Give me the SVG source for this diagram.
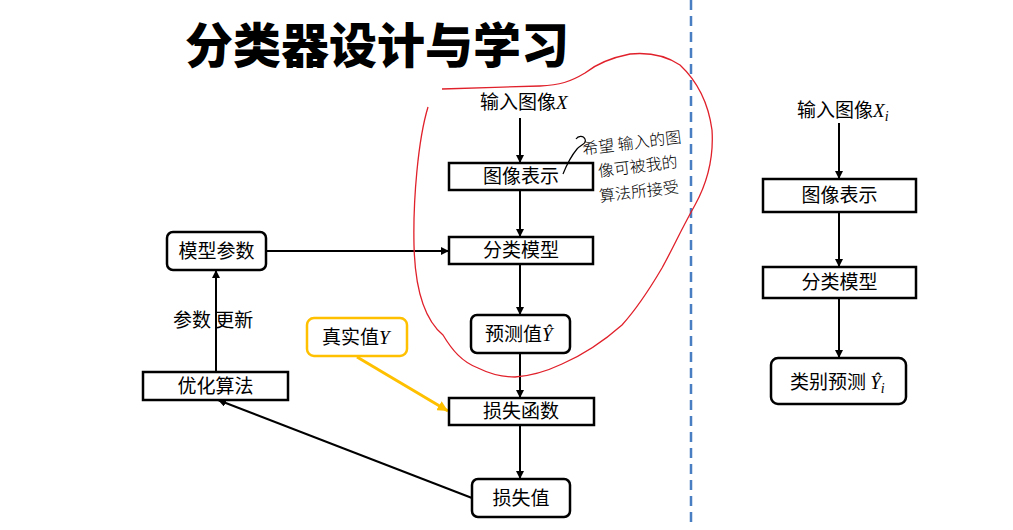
<svg xmlns="http://www.w3.org/2000/svg" width="1013" height="530" viewBox="0 0 1013 530">
<defs>
<marker id="ah" viewBox="0 0 10 10" refX="10" refY="5" markerWidth="4" markerHeight="4" orient="auto" markerUnits="strokeWidth">
<path d="M0,0 L10,5 L0,10 z" fill="#000"/>
</marker>
<marker id="ahy" viewBox="0 0 10 10" refX="10" refY="5" markerWidth="3.5" markerHeight="3.5" orient="auto" markerUnits="strokeWidth">
<path d="M0,0 L10,5 L0,10 z" fill="#FFC000"/>
</marker>
<style>
.box{fill:#fff;stroke:#000;stroke-width:2.5}
.ybox{fill:#fff;stroke:#FFC000;stroke-width:2.5}
.t{font-family:"Noto Sans CJK SC","Noto Sans",sans-serif;font-size:19px;fill:#000}
.m{font-family:"Liberation Serif",serif;font-style:italic}
.c{text-anchor:middle}
.ln{stroke:#000;stroke-width:2;fill:none}
.hand{font-family:"Noto Sans CJK SC",sans-serif;font-size:16px;font-weight:300;fill:#000}
</style>
</defs>
<rect width="1013" height="530" fill="#fff"/>
<text x="377" y="63" class="c" style="font-family:'Noto Sans CJK SC',sans-serif;font-size:48px;font-weight:900;fill:#000">分类器设计与学习</text>
<line x1="691" y1="0" x2="691" y2="528" stroke="#4A7EC2" stroke-width="2.5" stroke-dasharray="10,6"/>
<g id="connectors">
<line class="ln" x1="520" y1="118" x2="520" y2="163" marker-end="url(#ah)"/>
<line class="ln" x1="520" y1="190" x2="520" y2="237" marker-end="url(#ah)"/>
<line class="ln" x1="520" y1="264" x2="520" y2="315" marker-end="url(#ah)"/>
<line class="ln" x1="520" y1="353" x2="520" y2="398" marker-end="url(#ah)"/>
<line class="ln" x1="520" y1="425" x2="520" y2="479" marker-end="url(#ah)"/>
<line class="ln" x1="266" y1="251" x2="449" y2="251" marker-end="url(#ah)"/>
<line class="ln" x1="216" y1="372" x2="216" y2="270" marker-end="url(#ah)"/>
<line class="ln" x1="472" y1="498" x2="218" y2="400" marker-end="url(#ah)"/>
<line x1="357" y1="357" x2="448" y2="411" stroke="#FFC000" stroke-width="3" marker-end="url(#ahy)"/>
<line class="ln" x1="839" y1="123" x2="839" y2="179" marker-end="url(#ah)"/>
<line class="ln" x1="839" y1="212" x2="839" y2="267" marker-end="url(#ah)"/>
<line class="ln" x1="839" y1="298" x2="839" y2="358" marker-end="url(#ah)"/>
</g>
<g id="n-input"><text x="480" y="109" class="t">输入图像<tspan class="m">X</tspan></text></g>
<g id="n-repr"><rect class="box" x="449" y="163" width="144" height="27"/><text x="521" y="183" class="t c">图像表示</text></g>
<g id="n-model"><rect class="box" x="449" y="237" width="144" height="27"/><text x="521" y="257" class="t c">分类模型</text></g>
<g id="n-pred"><rect class="box" x="471" y="315" width="99" height="38" rx="6"/><text x="485" y="341" class="t">预测值<tspan class="m">Ŷ</tspan></text></g>
<g id="n-loss"><rect class="box" x="449" y="398" width="145" height="27"/><text x="521" y="418" class="t c">损失函数</text></g>
<g id="n-lossval"><rect class="box" x="472" y="479" width="98" height="38" rx="6"/><text x="521" y="505" class="t c">损失值</text></g>
<g id="n-params"><rect class="box" x="167" y="232" width="99" height="38" rx="6"/><text x="216.5" y="258" class="t c">模型参数</text></g>
<g id="n-opt"><rect class="box" x="143" y="372" width="145" height="28"/><text x="215.5" y="393" class="t c">优化算法</text></g>
<g id="n-update"><text x="173" y="327" class="t">参数 更新</text></g>
<g id="n-truth"><rect class="ybox" x="307" y="318" width="100" height="38" rx="7"/><text x="322" y="344" class="t">真实值<tspan class="m">Y</tspan></text></g>
<g id="n-rinput"><text x="797" y="117" class="t">输入图像<tspan class="m">X</tspan><tspan class="m" font-size="14" dy="4">i</tspan></text></g>
<g id="n-rrepr"><rect class="box" x="763" y="179" width="153" height="33"/><text x="839.5" y="202" class="t c">图像表示</text></g>
<g id="n-rmodel"><rect class="box" x="763" y="267" width="153" height="31"/><text x="839.5" y="289" class="t c">分类模型</text></g>
<g id="n-rpred"><rect class="box" x="771" y="358" width="135" height="46" rx="7"/><text x="790" y="389" class="t">类别预测 <tspan class="m">Ŷ</tspan><tspan class="m" font-size="14" dy="4">i</tspan></text></g>
<g id="annotation">
<path d="M428,107 C418,140 413,200 414,245 C415,290 425,320 443,335 C452,350 462,362 478,368 C490,374 500,377 515,377 C530,376 545,372 562,364 C585,354 605,340 622,325 C640,305 652,285 662,268 C672,250 682,228 695,205 C706,185 714,160 712,130 C708,100 696,80 680,65 C665,55 650,52 630,54 C610,58 595,65 585,73 C570,82 560,85 540,86 C510,87 470,88 442,89" fill="none" stroke="#E0202A" stroke-width="1.3"/>
<path d="M563,174 C567,164 572,155 577,149 C581,144 587,144 585,139 C583,135 578,136 576,139" fill="none" stroke="#000" stroke-width="1.2"/>
<g transform="rotate(-7 630 160)">
<text x="584" y="149" class="hand">希望 输入的图</text>
<text x="597" y="173" class="hand">像可被我的</text>
<text x="595" y="198" class="hand">算法所接受</text>
</g>
</g>
</svg>
